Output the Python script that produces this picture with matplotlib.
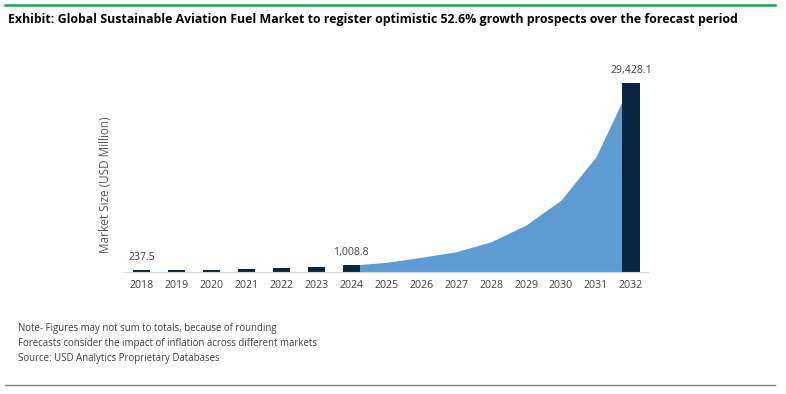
import matplotlib.pyplot as plt

years = ['2018', '2019', '2020', '2021', '2022', '2023', '2024', '2025',
         '2026', '2027', '2028', '2029', '2030', '2031', '2032']
# dark bars: history up to 2024 and the end year
bar_years = ['2018', '2019', '2020', '2021', '2022', '2023', '2024', '2032']
bar_values = [237.5, 300, 340, 390, 500, 680, 1008.8, 29428.1]
# forecast area 2024-2032
area_years = ['2024', '2025', '2026', '2027', '2028', '2029', '2030', '2031', '2032']
area_values = [1008.8, 1460, 2240, 3110, 4670, 7270, 11160, 17900, 29428.1]
labels = {'2018': '237.5', '2024': '1,008.8', '2032': '29,428.1'}

title = ('Exhibit: Global Sustainable Aviation Fuel Market to register '
         'optimistic 52.6% growth prospects over the forecast period')
notes = ['Note- Figures may not sum to totals, because of rounding',
         'Forecasts consider the impact of inflation across different markets',
         'Source: USD Analytics Proprietary Databases']

plt.rcParams['font.family'] = ['Open Sans', 'DejaVu Sans']

fig = plt.figure(figsize=(7.86, 3.94), dpi=100)
ax = fig.add_axes([0.1578, 0.3104, 0.6672, 0.5706])

pos = {y: i for i, y in enumerate(years)}
ax.fill_between([pos[y] for y in area_years], area_values, 0,
                color='#5F9BD3', linewidth=0, zorder=1)
ax.bar([pos[y] for y in bar_years], bar_values, width=0.5,
       color='#082641', zorder=2)

for y, v in zip(bar_years, bar_values):
    if y in labels:
        ax.annotate(labels[y], (pos[y], v), xytext=(0, 5), textcoords='offset points',
                    ha='center', va='bottom', fontsize=7.6, color='#404040')

ax.set_xlim(-0.5, len(years) - 0.5)
ax.set_ylim(0, 35000)
ax.set_xticks(range(len(years)))
ax.set_xticklabels(years, fontsize=7.7, color='#404040')
ax.tick_params(axis='x', length=0, pad=6)
ax.set_yticks([])
for s in ['top', 'right', 'left']:
    ax.spines[s].set_visible(False)
ax.spines['bottom'].set_color('#D9D9D9')
ax.set_ylabel('Market Size (USD Million)', fontsize=8.5, color='#595959')
ax.yaxis.set_label_coords(-0.022, 0.386)

fig.text(8 / 786, 1 - 19 / 394, title, fontsize=8.9, fontweight='bold',
         color='#000000', va='center', ha='left')
fig.add_artist(plt.Line2D([5 / 786, 775 / 786], [1 - 5 / 394, 1 - 5 / 394],
                          color='#00B050', linewidth=1.8))
fig.add_artist(plt.Line2D([5 / 786, 775 / 786], [1 - 385 / 394, 1 - 385 / 394],
                          color='#808080', linewidth=1))

for i, n in enumerate(notes):
    fig.text(18 / 786, 1 - (328 + i * 15.5) / 394, n, fontsize=6.9,
             color='#404040', va='center', ha='left')

fig.savefig('out.png', dpi=100, facecolor='white')
